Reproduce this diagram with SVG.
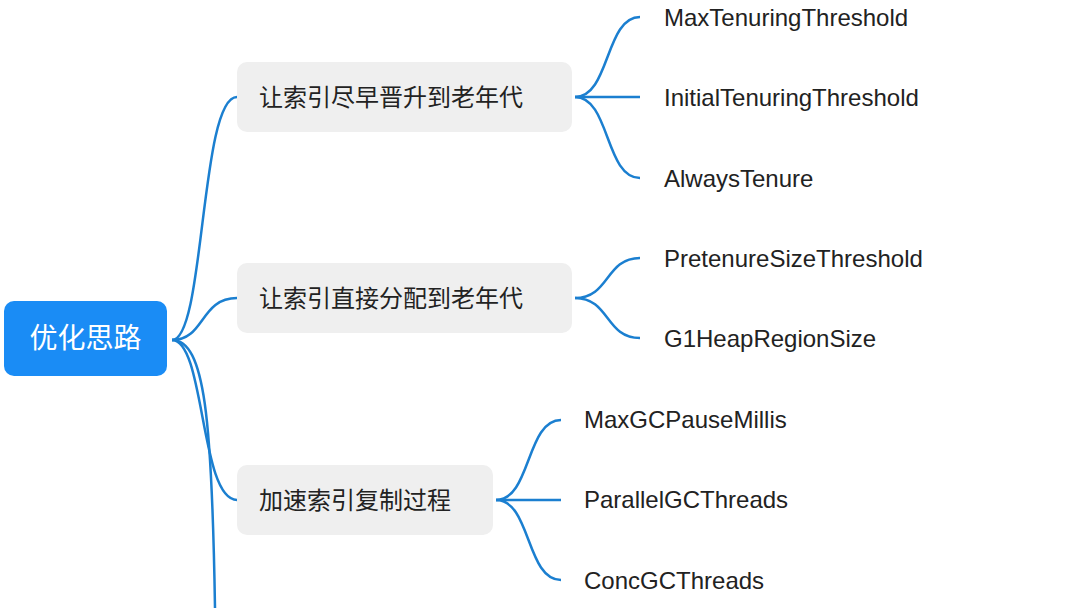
<svg xmlns="http://www.w3.org/2000/svg" width="1080" height="608" viewBox="0 0 1080 608">
<style>
.c{fill:none;stroke:#1b7fd0;stroke-width:2.5}
.b{fill:#efefef}
.t{font-family:"Noto Sans CJK SC","Liberation Sans",sans-serif;font-size:24px;fill:#222}
.l{font-family:"Liberation Sans",Arial,sans-serif;font-size:24px;fill:#222}
</style>
<rect width="1080" height="608" fill="#fff"/>
<g id="connectors">
<path class="c" d="M172,340 C205,340 200,97 237,97"/>
<path class="c" d="M172,340 C205,340 200,298 237,298"/>
<path class="c" d="M172,340 C205,340 200,500 237,500"/>
<path class="c" d="M172,340 C205,340 212,420 215,608"/>
<path class="c" d="M575,97 C610,97 605,17 640,17"/>
<path class="c" d="M575,97 H640"/>
<path class="c" d="M575,97 C610,97 605,178 640,178"/>
<path class="c" d="M575,298 C610,298 605,258 640,258"/>
<path class="c" d="M575,298 C610,298 605,338 640,338"/>
<path class="c" d="M496,500 C531,500 526,420 561,420"/>
<path class="c" d="M496,500 H561"/>
<path class="c" d="M496,500 C531,500 526,580 561,580"/>
</g>
<g id="root"><rect x="4" y="301" width="163" height="75" rx="10" fill="#1a8cf5"/><text x="85.5" y="348" text-anchor="middle" font-family="Noto Sans CJK SC,sans-serif" font-size="28" fill="#fff">优化思路</text></g>
<g id="n1"><rect class="b" x="237" y="62" width="335" height="70" rx="10"/><text class="t" x="259" y="106">让索引尽早晋升到老年代</text></g>
<g id="n2"><rect class="b" x="237" y="263" width="335" height="70" rx="10"/><text class="t" x="259" y="307">让索引直接分配到老年代</text></g>
<g id="n3"><rect class="b" x="237" y="465" width="256" height="70" rx="10"/><text class="t" x="259" y="509">加速索引复制过程</text></g>
<g id="l1"><text class="l" x="664" y="26">MaxTenuringThreshold</text></g>
<g id="l2"><text class="l" x="664" y="106">InitialTenuringThreshold</text></g>
<g id="l3"><text class="l" x="664" y="187">AlwaysTenure</text></g>
<g id="l4"><text class="l" x="664" y="267">PretenureSizeThreshold</text></g>
<g id="l5"><text class="l" x="664" y="347">G1HeapRegionSize</text></g>
<g id="l6"><text class="l" x="584" y="428">MaxGCPauseMillis</text></g>
<g id="l7"><text class="l" x="584" y="508">ParallelGCThreads</text></g>
<g id="l8"><text class="l" x="584" y="589">ConcGCThreads</text></g>
</svg>
